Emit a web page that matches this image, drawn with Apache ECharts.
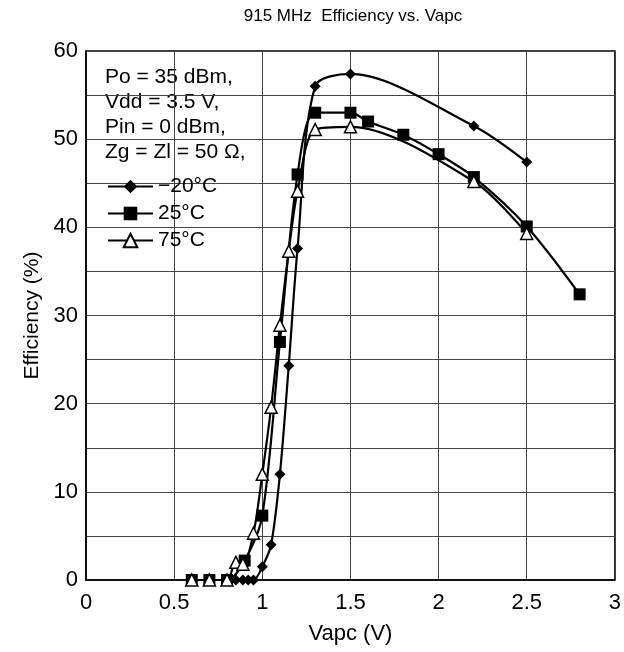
<!DOCTYPE html>
<html>
<head>
<meta charset="utf-8">
<script src="https://cdn.jsdelivr.net/npm/echarts@6/dist/echarts.min.js"></script>
<style>
  html, body { margin: 0; padding: 0; background: #fff; }
  #chart { width: 624px; height: 652px; }
</style>
</head>
<body>
<div id="chart"></div>
<script>
// 915 MHz efficiency vs Vapc, three temperatures
var vCold = [0.85, 0.89, 0.92, 0.95, 1.0, 1.05, 1.1, 1.15, 1.2, 1.3, 1.5, 2.2, 2.5];
var effCold = [0, 0, 0, 0, 1.5, 4, 12, 24.3, 37.6, 56, 57.4, 51.5, 47.4];

var vRoom = [0.6, 0.7, 0.8, 0.9, 1.0, 1.1, 1.2, 1.3, 1.5, 1.6, 1.8, 2.0, 2.2, 2.5, 2.8];
var effRoom = [0, 0, 0, 2.2, 7.3, 27, 46, 53, 53, 52, 50.5, 48.3, 45.7, 40.1, 32.4];

var vHot = [0.6, 0.7, 0.8, 0.85, 0.89, 0.95, 1.0, 1.05, 1.1, 1.15, 1.2, 1.3, 1.5, 2.2, 2.5];
var effHot = [0, 0, 0, 2, 1.8, 5.3, 12, 19.6, 28.9, 37.3, 44.1, 51.1, 51.4, 45.2, 39.3];

var seriesNames = ['\u221220\u00b0C', '25\u00b0C', '75\u00b0C'];
var conditions = ['Po = 35 dBm,', 'Vdd = 3.5 V,', 'Pin = 0 dBm,', 'Zg = Zl = 50 \u03a9,'];

function pairs(xs, ys) {
    return xs.map(function (x, i) { return [x, ys[i]]; });
}

var font = 'Liberation Sans, Arial, sans-serif';
var chart = echarts.init(document.getElementById('chart'));

var condText = conditions.map(function (t, i) {
    return {
        type: 'text',
        left: 105,
        top: 67 + i * 25,
        style: { text: t, font: '21px ' + font, fill: '#000' }
    };
});

var option = {
    backgroundColor: '#fff',
    animation: false,
    textStyle: { fontFamily: font },
    grid: {
        left: 86, right: 8, top: 51, bottom: 72,
        show: true, borderColor: '#000', borderWidth: 1.5,
        containLabel: false
    },
    graphic: {
        z: 3,
        elements: [{
            type: 'rect',
            shape: { x: 101, y: 62, width: 152, height: 188 },
            style: { fill: '#fff' }
        }].concat(condText).concat([{
            type: 'text',
            x: 353,
            y: 8,
            style: { text: '915 MHz  Efficiency vs. Vapc', font: '17px ' + font, fill: '#000', align: 'center' }
        }])
    },
    legend: {
        z: 10,
        orient: 'vertical',
        left: 102,
        top: 171,
        itemWidth: 45,
        itemHeight: 17,
        itemGap: 6,
        data: seriesNames,
        textStyle: { fontSize: 21, color: '#000', fontFamily: font }
    },
    xAxis: {
        type: 'value',
        min: 0, max: 3, interval: 0.5,
        name: 'Vapc (V)',
        nameLocation: 'middle',
        nameGap: 43,
        nameTextStyle: { fontSize: 22, color: '#000' },
        axisLine: { show: true, onZero: false, lineStyle: { color: '#000', width: 1.5 } },
        axisTick: { show: false },
        axisLabel: { fontSize: 22, color: '#000', margin: 12 },
        splitLine: { show: true, lineStyle: { color: '#444', width: 1 } }
    },
    yAxis: {
        type: 'value',
        min: 0, max: 60, interval: 10,
        name: 'Efficiency (%)',
        nameLocation: 'middle',
        nameGap: 32,
        nameTextStyle: { fontSize: 21, color: '#000' },
        axisLine: { show: true, lineStyle: { color: '#000', width: 1.5 } },
        axisTick: { show: false },
        minorTick: { show: false, splitNumber: 2 },
        minorSplitLine: { show: true, lineStyle: { color: '#444', width: 1 } },
        axisLabel: { fontSize: 22, color: '#000', margin: 8 },
        splitLine: { show: true, lineStyle: { color: '#444', width: 1 } }
    },
    series: [{
        name: seriesNames[0],
        type: 'line',
        data: pairs(vCold, effCold),
        smooth: 0.3,
        symbol: 'diamond',
        symbolSize: 11,
        lineStyle: { color: '#000', width: 2.2 },
        itemStyle: { color: '#000' }
    }, {
        name: seriesNames[1],
        type: 'line',
        data: pairs(vRoom, effRoom),
        smooth: 0.3,
        symbol: 'rect',
        symbolSize: 12,
        lineStyle: { color: '#000', width: 2.2 },
        itemStyle: { color: '#000' }
    }, {
        name: seriesNames[2],
        type: 'line',
        data: pairs(vHot, effHot),
        smooth: 0.3,
        symbol: 'triangle',
        symbolSize: 12,
        lineStyle: { color: '#000', width: 2.2 },
        itemStyle: { color: '#fff', borderColor: '#000', borderWidth: 1.5 }
    }]
};
chart.setOption(option);
</script>
</body>
</html>
